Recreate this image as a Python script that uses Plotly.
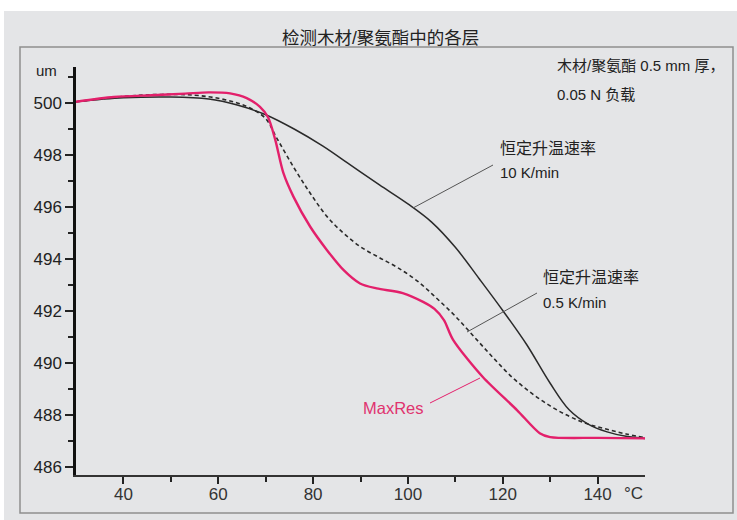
import plotly.graph_objects as go

# ---------------- data ----------------
t_10k = [30, 40, 50, 58, 64, 70, 76, 82, 88, 94, 100, 105, 110, 115, 120, 125, 130,
         134, 138, 142, 146, 150]
v_10k = [500.05, 500.2, 500.23, 500.15, 499.92, 499.55, 499.0, 498.35, 497.6, 496.85,
         496.12, 495.42, 494.45, 493.25, 492.02, 490.72, 489.22, 488.2, 487.65, 487.35,
         487.18, 487.1]

t_05k = [30, 40, 48, 55, 60, 64, 67, 70, 72.5, 76, 79.5, 83, 86.5, 90, 94, 98, 102,
         106, 110, 114, 118, 122, 126, 130, 134, 138, 142, 146, 150]
v_05k = [500.05, 500.25, 500.33, 500.3, 500.18, 500.0, 499.78, 499.4, 498.6, 497.5,
         496.5, 495.62, 494.98, 494.47, 494.05, 493.65, 493.15, 492.5, 491.8, 491.0,
         490.2, 489.45, 488.85, 488.35, 487.95, 487.65, 487.45, 487.27, 487.13]

t_max = [30, 38, 46, 53, 58, 62.5, 66, 68.8, 70.5, 72, 73.75, 75.85, 79.4, 82.9, 86.4,
         89.9, 93.4, 98.9, 103.2, 105.6, 107.6, 109.5, 115.8, 123, 127.8, 130, 140, 150]
v_max = [500.05, 500.23, 500.3, 500.36, 500.41, 500.37, 500.19, 499.85, 499.45, 498.6,
         497.3, 496.4, 495.24, 494.35, 493.58, 493.06, 492.87, 492.69, 492.35, 492.08,
         491.65, 490.9, 489.46, 488.19, 487.3, 487.15, 487.12, 487.1]

x_ticks = [40, 60, 80, 100, 120, 140]
x_minor = [50, 70, 90, 110, 130]
y_ticks = [486, 488, 490, 492, 494, 496, 498, 500]

title_text = "检测木材/聚氨酯中的各层"
note1 = "木材/聚氨酯 0.5 mm 厚，"
note2 = "0.05 N 负载"
rate_label = "恒定升温速率"
rate10 = "10 K/min"
rate05 = "0.5 K/min"
maxres = "MaxRes"

# ---------------- layout geometry (pixels) ----------------
W, H = 737, 520
PL, PR, PT, PB = 76, 645, 67, 475


def px(x):
    return (x - PL) / (PR - PL)


def py(y):
    return (PB - y) / (PB - PT)


BG = "#e4e5e7"
RED = "#e3206b"
FONT = "Liberation Sans, Arial, Noto Sans CJK SC, sans-serif"

fig = go.Figure()
fig.add_trace(go.Scatter(x=t_10k, y=v_10k, mode="lines",
                         line=dict(color="#2a2a2a", width=1.5, shape="spline", smoothing=1.0),
                         hoverinfo="skip"))
fig.add_trace(go.Scatter(x=t_05k, y=v_05k, mode="lines",
                         line=dict(color="#2a2a2a", width=1.6, dash="4px,3px", shape="spline", smoothing=1.0),
                         hoverinfo="skip"))
fig.add_trace(go.Scatter(x=t_max, y=v_max, mode="lines",
                         line=dict(color=RED, width=2.4, shape="spline", smoothing=0.8),
                         hoverinfo="skip"))

shapes = [
    # white strips outside the grey panel
    dict(type="rect", xref="paper", yref="paper", x0=px(0), x1=px(W), y0=py(11), y1=py(0),
         fillcolor="white", line=dict(width=0), layer="below"),
    dict(type="rect", xref="paper", yref="paper", x0=px(0), x1=px(4), y0=py(H), y1=py(0),
         fillcolor="white", line=dict(width=0), layer="below"),
    # inner frame
    dict(type="rect", xref="paper", yref="paper", x0=px(20), x1=px(733), y0=py(513), y1=py(47),
         line=dict(color="#8e8e8e", width=1.5), fillcolor="rgba(0,0,0,0)", layer="below"),
    # leader lines
    dict(type="line", xref="paper", yref="paper", x0=px(493), y0=py(165), x1=px(413), y1=py(208),
         line=dict(color="#555555", width=1)),
    dict(type="line", xref="paper", yref="paper", x0=px(537), y0=py(293), x1=px(467), y1=py(332),
         line=dict(color="#555555", width=1)),
    dict(type="line", xref="paper", yref="paper", x0=px(430), y0=py(403), x1=px(480), y1=py(378),
         line=dict(color=RED, width=1)),
]


def ann(text, x, y, size, color="#222222", xanchor="left"):
    return dict(text=text, xref="paper", yref="paper", x=px(x), y=py(y), xanchor=xanchor,
                yanchor="middle", showarrow=False, font=dict(family=FONT, size=size, color=color))


annotations = [
    ann(title_text, 380, 38, 17.5, xanchor="center"),
    ann(note1, 555, 65, 15),
    ann(note2, 555, 94, 15),
    ann(rate_label, 498, 148, 16),
    ann(rate10, 498, 172, 15),
    ann(rate_label, 541, 277, 16),
    ann(rate05, 541, 302, 15),
    ann(maxres, 361, 408, 16.5, color="#e0336f"),
    ann("um", 59, 71, 15, xanchor="right"),
    ann("°C", 633, 493, 17, color="#333333", xanchor="center"),
]

fig.update_layout(
    width=W, height=H,
    margin=dict(l=PL, r=W - PR, t=PT, b=H - PB, pad=0),
    paper_bgcolor=BG, plot_bgcolor=BG,
    showlegend=False,
    shapes=shapes, annotations=annotations,
    font=dict(family=FONT, size=16, color="#222222"),
)
fig.update_xaxes(range=[30, 150], tickmode="array", tickvals=x_ticks,
                 ticks="outside", ticklen=7, tickwidth=1.5, tickcolor="#222",
                 showline=True, linewidth=1.5, linecolor="#333",
                 showgrid=False, zeroline=False, ticklabelstandoff=-4,
                 tickfont=dict(size=17, color="#333333"),
                 minor=dict(tickmode="array", tickvals=x_minor, ticks="outside",
                            ticklen=5, tickwidth=1.5, tickcolor="#222"))
fig.update_yaxes(range=[485.692, 501.385], tickmode="array", tickvals=y_ticks,
                 ticks="outside", ticklen=8, tickwidth=1.5, tickcolor="#222",
                 showline=True, linewidth=2.5, linecolor="#111",
                 showgrid=False, zeroline=False,
                 tickfont=dict(size=17, color="#222222"),
                 minor=dict(dtick=1, tick0=486, ticks="outside",
                            ticklen=5, tickwidth=1.5, tickcolor="#222"))

fig.write_html("out.html")
